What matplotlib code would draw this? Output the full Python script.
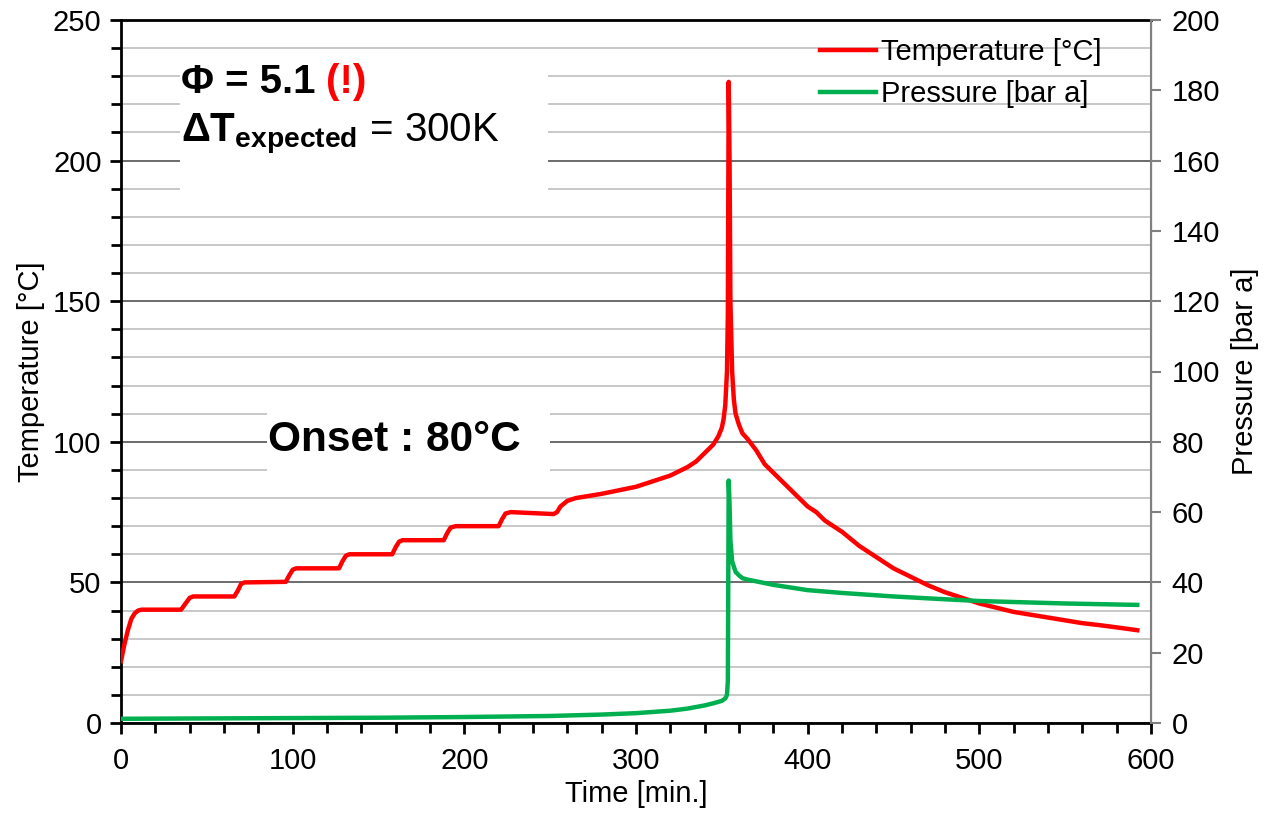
import numpy as np
import matplotlib.pyplot as plt
from matplotlib.patches import Rectangle
from matplotlib.ticker import MultipleLocator

plt.rcParams['font.family'] = ['Liberation Sans', 'DejaVu Sans']
plt.rcParams['mathtext.fontset'] = 'custom'
plt.rcParams['mathtext.rm'] = 'Liberation Sans'
plt.rcParams['mathtext.bf'] = 'Liberation Sans:bold'

# temperature log [min, degC]
time_T = [0, 2, 4, 6, 8, 10, 12, 35, 37, 40,
          42, 66, 68, 70, 72, 96, 98, 100, 102, 127,
          129, 131, 133, 158, 160, 162, 164, 188, 190, 192,
          195, 220, 222, 224, 227, 252, 254, 256, 258, 260,
          265, 280, 300, 310, 320, 330, 335, 340, 345, 348,
          350, 351, 352, 353, 353.5, 354, 354.5, 355, 356, 357,
          358, 360, 362, 365, 370, 375, 380, 385, 390, 395,
          400, 405, 410, 415, 420, 430, 440, 450, 460, 470,
          480, 490, 500, 510, 520, 530, 540, 550, 560, 570,
          580, 592]
temp = [22, 28, 33, 37, 39, 40, 40.3, 40.3, 42, 44.5,
        45, 45, 47, 49.5, 50, 50.2, 52.5, 54.5, 55, 55,
        57.5, 59.5, 60, 60, 62.5, 64.5, 65, 65, 67.5, 69.5,
        70, 70, 72.5, 74.5, 75, 74.3, 75, 77, 78, 79,
        80, 81.5, 84, 86, 88, 91, 93, 96, 99, 102,
        105, 108, 113, 125, 145, 228, 200, 150, 125, 115,
        110, 106, 103, 101, 97, 92, 89, 86, 83, 80,
        77, 75, 72, 70, 68, 63, 59, 55, 52, 49,
        46.5, 44.5, 42.5, 41, 39.5, 38.5, 37.5, 36.5, 35.5, 34.8,
        34, 33]

# pressure log [min, bar a]
time_P = [0, 50, 100, 150, 200, 250, 280, 300, 320, 330,
          340, 345, 350, 352, 353, 353.5, 354, 354.5, 355, 356,
          358, 360, 362, 365, 370, 380, 400, 420, 450, 480,
          500, 550, 592]
pres = [1.2, 1.3, 1.4, 1.5, 1.7, 2.0, 2.4, 2.8, 3.5, 4.1,
        5.0, 5.6, 6.3, 7, 8, 12, 69, 62, 52, 46,
        43, 42, 41.2, 40.8, 40.3, 39.3, 37.8, 37, 36, 35.2,
        34.7, 34, 33.6]

fig = plt.figure(figsize=(12.68, 8.17), dpi=100)
ax = fig.add_axes([121/1268, 94/817, 1030/1268, 703/817])
ax2 = ax.twinx()

ax.set_xlim(0, 600)
ax.set_ylim(0, 250)
ax2.set_ylim(0, 200)
ax.xaxis.set_major_locator(MultipleLocator(100))
ax.xaxis.set_minor_locator(MultipleLocator(20))
ax.yaxis.set_major_locator(MultipleLocator(50))
ax.yaxis.set_minor_locator(MultipleLocator(10))
ax2.yaxis.set_major_locator(MultipleLocator(20))

ax.set_axisbelow(True)
ax.grid(which='minor', axis='y', color='#c4c4c4', lw=1.3)
ax.grid(which='major', axis='y', color='#606060', lw=1.3)

# white boxes behind the annotations
ax.add_patch(Rectangle((0.0573, 0.758), 0.357, 0.200, transform=ax.transAxes,
                       facecolor='white', edgecolor='none', zorder=1))
ax.add_patch(Rectangle((0.1417, 0.3385), 0.275, 0.121, transform=ax.transAxes,
                       facecolor='white', edgecolor='none', zorder=1))

l1, = ax.plot(time_T, temp, color='#ff0000', lw=3.2, label='Temperature [°C]', zorder=3)
l2, = ax2.plot(time_P, pres, color='#00b050', lw=3.2, label='Pressure [bar a]', zorder=3)

for s in ['left', 'bottom', 'top']:
    ax.spines[s].set_linewidth(2)
    ax.spines[s].set_color('black')
ax2.spines['right'].set_color('#808080')
ax2.spines['right'].set_linewidth(1.5)
for s in ['left', 'bottom', 'top']:
    ax2.spines[s].set_visible(False)

ax.tick_params(which='major', direction='out', length=8, width=2, labelsize=21, pad=6)
ax.tick_params(which='minor', direction='out', length=7, width=2)
ax.tick_params(axis='x', which='major', pad=9)
ax2.tick_params(direction='out', length=7, width=1.5, color='#808080', labelsize=21, pad=8)

ax.set_xlabel('Time [min.]', fontsize=21, labelpad=4)
ax.set_ylabel('Temperature [°C]', fontsize=21, labelpad=6)
ax2.set_ylabel('Pressure [bar a]', fontsize=21, labelpad=8)

ax.legend([l1, l2], [l1.get_label(), l2.get_label()], loc='upper right',
          bbox_to_anchor=(0.978, 1.012), frameon=False, fontsize=21,
          handlelength=1.9, handletextpad=0.2, labelspacing=0.5)

t1 = ax.text(0.058, 0.912, 'Φ = 5.1 ', transform=ax.transAxes, fontsize=29,
             fontweight='bold', va='baseline', zorder=4)
t1.set_va('center')
ax.annotate('(!)', xy=(1, 0.5), xycoords=t1, fontsize=29, fontweight='bold',
            color='#ff0000', va='center', ha='left', zorder=4)
ax.text(0.058, 0.839, r'$\mathbf{\Delta T_{expected}}$ = 300K', transform=ax.transAxes,
        fontsize=29, va='center', zorder=4)
ax.text(0.143, 0.4025, 'Onset : 80°C', transform=ax.transAxes, fontsize=30.5,
        fontweight='bold', va='center', zorder=4)

fig.savefig('out.png', dpi=100)
